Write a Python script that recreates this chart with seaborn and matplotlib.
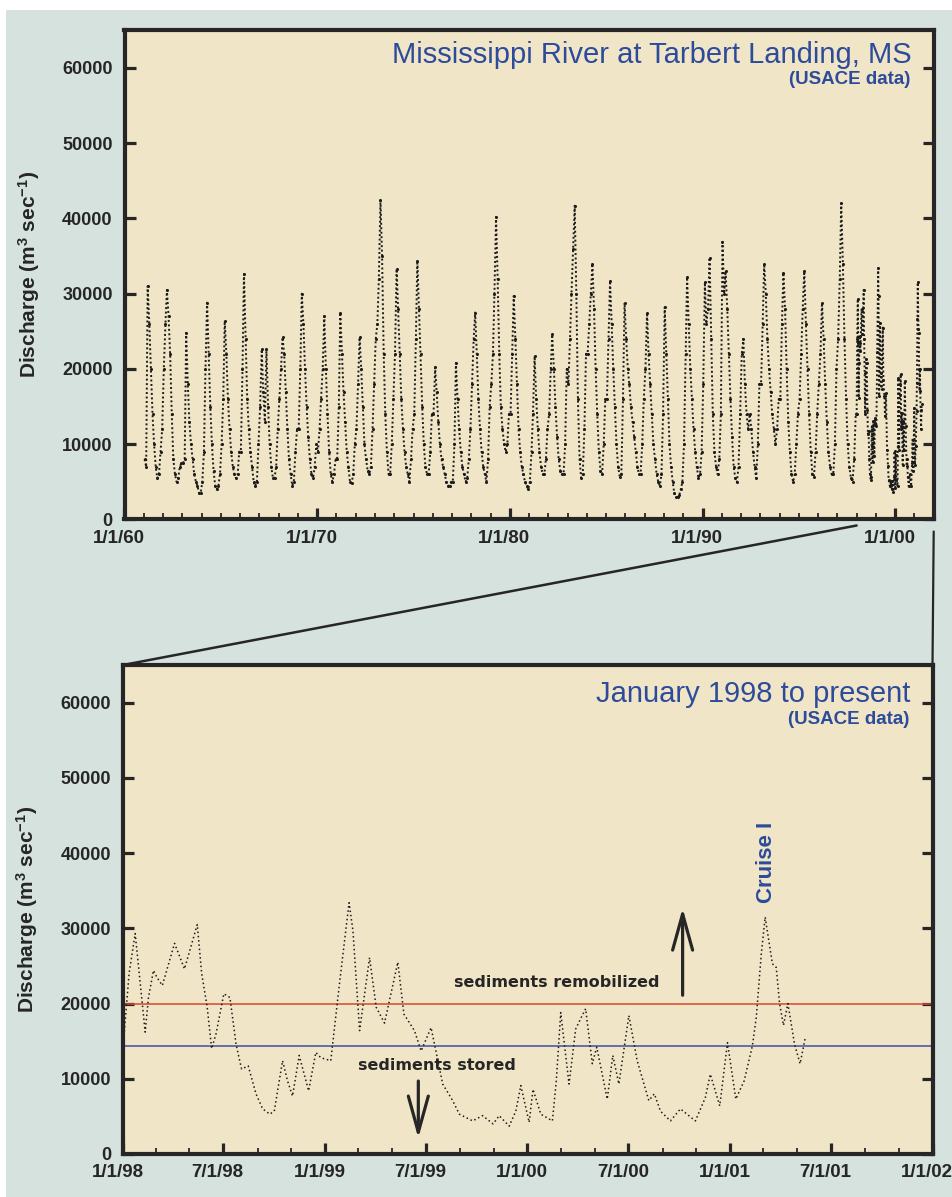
import numpy as np
import pandas as pd
import matplotlib
matplotlib.use("Agg")
import matplotlib.pyplot as plt
import matplotlib.dates as mdates
from matplotlib.patches import Rectangle, ConnectionPatch
from matplotlib.transforms import ScaledTranslation
from matplotlib.ticker import FixedLocator, FuncFormatter
import seaborn as sns

# ---------------- data (discharge in 1000 m3/s) ----------------
# long record: mid-month values, Jan 1961 .. Dec 1969
q_1960s = [8, 7, 31, 26, 20, 14, 10, 7, 5.5, 6, 9, 12,
           20, 26, 30.5, 27, 22, 14, 8, 6, 5, 5.5, 7, 7.5,
           7.5, 8, 24.8, 18, 13, 10, 8, 6, 5, 4.5, 3.5, 3.5,
           5, 9, 20, 28.8, 22, 15, 10, 6.5, 4.5, 4, 4.5, 6,
           10, 16, 26.4, 22, 16, 12, 9, 7, 6, 5.5, 6, 9,
           9, 20, 32.6, 24, 16, 12, 9, 7, 5, 4.4, 5, 10,
           15, 22.6, 17, 13, 22.6, 15, 10, 7, 5.5, 5.5, 7, 12,
           16, 20, 24.2, 22, 17, 12, 8, 6, 4.5, 5, 9, 12,
           12, 20, 30, 26, 20, 15, 11, 8, 6, 5.5, 7, 10]
q_1970s = [9, 12, 16, 20, 27, 20, 14, 9, 6, 5, 6, 8,
           8, 15, 27.5, 22, 17, 13, 9, 7, 5, 4.8, 6, 10,
           12, 18, 24.2, 20, 15, 10, 8, 6.5, 6, 7, 12, 18,
           24, 26, 32, 42.4, 35, 22, 14, 9, 6, 6, 10, 16,
           22, 33.3, 28, 22, 16, 12, 9, 7, 6, 5, 8, 12,
           14, 24, 34.4, 28, 22, 15, 10, 7, 6, 6, 9, 14,
           14, 20.2, 17, 13, 10, 8, 7, 6, 5, 4.5, 4.5, 5,
           5, 10, 20.8, 16, 12, 9, 7, 6, 5, 5.5, 8, 12,
           18, 24, 27.5, 22, 16, 12, 9, 7, 6, 5, 8, 15,
           18, 22, 30, 40.2, 32, 22, 15, 12, 10, 9, 10, 14]
q_1980s = [14, 22, 29.7, 24, 18, 12, 9, 7, 6, 5, 4.5, 4,
           5, 9, 14, 21.7, 16, 12, 9, 7, 6, 6, 8, 12,
           14, 20, 24.6, 20, 15, 11, 8, 6.5, 6, 6, 10, 20,
           18, 24, 30, 36, 41.7, 30, 16, 8, 5.5, 6, 12, 22,
           22, 26, 30, 34, 28, 20, 14, 9, 6.5, 6, 10, 16,
           16, 24, 31.7, 26, 20, 15, 10, 7, 5.7, 6, 16, 28.8,
           24, 20, 18, 15, 13, 11, 9, 7, 6, 6, 10, 16,
           20, 27.5, 22, 18, 14, 10, 8, 6, 5, 4.5, 6, 14,
           28.2, 22, 16, 10, 7, 5, 3.5, 3, 3, 3.2, 4, 5,
           10, 22, 32.2, 26, 20, 16, 12, 9, 7, 5.5, 6, 9]
q_1990s = [18, 31.5, 26, 28, 34.8, 24, 14, 9, 7, 6, 8, 14,
           36.9, 30, 33, 28, 22, 16, 11, 7, 5.5, 5, 7, 14,
           22, 24, 18, 14, 12, 14, 12, 9, 7, 5.5, 10, 18,
           18, 26, 34, 30, 24, 20, 17, 14, 12, 10, 12, 16,
           16, 26, 32.8, 28, 20, 13, 9, 6, 5, 6, 10, 14,
           16, 22, 28, 33, 26, 20, 14, 9, 6, 5.7, 9, 14,
           18, 22, 28.8, 24, 18, 13, 9, 7, 6, 6, 10, 20,
           24, 32, 42, 34, 24, 16, 10, 7, 5.5, 5, 8, 14]

# recent record (lower panel), Jan 1998 .. May 2001
recent_dates = ["1998-01-01", "1998-01-12", "1998-01-23", "1998-01-31", "1998-02-10", "1998-02-16",
                "1998-02-25", "1998-03-03", "1998-03-13", "1998-04-04", "1998-04-22", "1998-05-15",
                "1998-05-23", "1998-06-02", "1998-06-10", "1998-06-18", "1998-07-02", "1998-07-13",
                "1998-07-24", "1998-08-03", "1998-08-15", "1998-08-29", "1998-09-10", "1998-09-23",
                "1998-10-01", "1998-10-16", "1998-10-25", "1998-11-03", "1998-11-15", "1998-12-02",
                "1998-12-15", "1998-12-24",
                "1999-01-11", "1999-01-26", "1999-02-13", "1999-02-20", "1999-03-04", "1999-03-22",
                "1999-04-03", "1999-04-18", "1999-05-12", "1999-05-23", "1999-06-11", "1999-06-23",
                "1999-07-11", "1999-08-01", "1999-08-19", "1999-08-31", "1999-09-24", "1999-10-12",
                "1999-10-31", "1999-11-11", "1999-11-29", "1999-12-11", "1999-12-20",
                "2000-01-04", "2000-01-11", "2000-01-25", "2000-02-15", "2000-02-22", "2000-03-01",
                "2000-03-16", "2000-03-28", "2000-04-06", "2000-04-15", "2000-04-27", "2000-05-05",
                "2000-05-24", "2000-06-03", "2000-06-14", "2000-07-02", "2000-07-17", "2000-08-07",
                "2000-08-17", "2000-08-28", "2000-09-15", "2000-10-03", "2000-10-30", "2000-11-17",
                "2000-11-26", "2000-12-13", "2000-12-27",
                "2001-01-11", "2001-01-26", "2001-02-10", "2001-02-17", "2001-02-26", "2001-03-05",
                "2001-03-18", "2001-03-25", "2001-03-31", "2001-04-07", "2001-04-15", "2001-04-27",
                "2001-05-07", "2001-05-16"]
recent_q = [14.0, 24.0, 29.3, 23.5, 16.2, 20.8, 24.4, 23.5, 22.4, 28.0, 24.6, 30.5,
            24.0, 19.5, 14.0, 16.0, 21.3, 20.8, 14.6, 11.3, 11.7, 8.0, 6.0, 5.3,
            5.7, 12.4, 9.7, 7.7, 13.1, 8.4, 13.5, 12.8,
            12.4, 22.2, 33.4, 29.7, 16.4, 26.1, 19.5, 17.4, 25.5, 18.6, 16.4, 13.7,
            16.8, 9.3, 7.1, 5.3, 4.4, 5.1, 4.0, 5.1, 3.7, 5.7, 9.1,
            4.2, 8.6, 5.3, 4.4, 9.7, 18.8, 9.3, 16.6, 18.0, 19.3, 12.0, 14.2,
            7.3, 13.1, 9.3, 18.4, 12.4, 7.1, 8.0, 5.7, 4.4, 6.0, 4.4, 7.5,
            10.6, 6.4, 14.8,
            7.3, 9.7, 14.4, 18.2, 26.6, 31.5, 25.3, 24.8, 20.0, 17.1, 20.0, 14.6,
            12.0, 15.3]

remobilize_level = 19900
storage_level = 14400
y_ticks = [0, 10000, 20000, 30000, 40000, 50000, 60000]

top_title = "Mississippi River at Tarbert Landing, MS"
bottom_title = "January 1998 to present"
source_note = "(USACE data)"
ylabel = r"Discharge (m$^{3}$ sec$^{-1}$)"

# ---------------- frames ----------------
monthly = q_1960s + q_1970s + q_1980s + q_1990s
monthly_dates = pd.date_range("1961-01-01", periods=len(monthly), freq="MS") + pd.Timedelta(days=14)
long_df = pd.DataFrame({
    "date": list(monthly_dates) + list(pd.to_datetime(recent_dates)),
    "q": [v * 1000 for v in monthly] + [v * 1000 for v in recent_q],
})
recent_df = pd.DataFrame({"date": pd.to_datetime(recent_dates),
                          "q": [v * 1000 for v in recent_q]})

# ---------------- style ----------------
sns.set_style("ticks")
plt.rcParams["font.family"] = ["Liberation Sans", "DejaVu Sans"]
plt.rcParams["mathtext.fontset"] = "custom"
plt.rcParams["mathtext.bf"] = "Liberation Sans:bold"
plt.rcParams["mathtext.rm"] = "Liberation Sans:bold"
plt.rcParams["mathtext.default"] = "bf"

BG = "#d6e2de"
FACE = "#f1e5c7"
INK = "#262626"
BLUE = "#2d4b9b"

W, H = 952, 1197
fig = plt.figure(figsize=(W / 100, H / 100), dpi=100, facecolor="white")
fig.add_artist(Rectangle((6 / W, 0), 1 - 6 / W, 1 - 10 / H, transform=fig.transFigure,
                         facecolor=BG, edgecolor="none", zorder=-5))

ax1 = fig.add_axes([124.5 / W, (H - 519.5) / H, (933.7 - 124.5) / W, (519.5 - 30.3) / H])
ax2 = fig.add_axes([123 / W, (H - 1154) / H, (932.5 - 123) / W, (1154 - 665) / H])

sns.lineplot(data=long_df, x="date", y="q", ax=ax1, estimator=None, sort=False,
             color="#1c1c1c", lw=1.4, linestyle=(0, (1, 1.3)),
             marker="o", markersize=2.2, markeredgewidth=0, markerfacecolor="#1c1c1c")
sns.lineplot(data=recent_df, x="date", y="q", ax=ax2, estimator=None, sort=False,
             color="#1c1c1c", lw=1.1, linestyle=(0, (1, 1.8)))

ax2.axhline(remobilize_level, color="#d5482e", lw=1.1, zorder=1)
ax2.axhline(storage_level, color="#3c4fa3", lw=1.1, zorder=1)


def date_label(x, pos):
    d = mdates.num2date(x)
    return f"{d.month}/{d.day}/{d:%y}"


def style_axes(ax, start, end, major, minor):
    ax.set_facecolor(FACE)
    ax.set_xlim(pd.Timestamp(start), pd.Timestamp(end))
    ax.set_ylim(0, 65000)
    ax.set_xlabel("")
    ax.set_ylabel(ylabel, fontsize=15, fontweight="bold", color=INK)
    ax.yaxis.set_label_coords(-0.102, 0.5)
    ax.xaxis.set_major_locator(major)
    ax.xaxis.set_minor_locator(minor)
    ax.xaxis.set_major_formatter(FuncFormatter(date_label))
    ax.yaxis.set_major_locator(FixedLocator(y_ticks))
    ax.yaxis.set_major_formatter(FuncFormatter(lambda v, p: f"{int(v)}"))
    for s in ax.spines.values():
        s.set_visible(True)
        s.set_linewidth(3.0)
        s.set_color(INK)
    ax.tick_params(axis="y", which="major", direction="in", left=True, right=True,
                   length=8, width=2.3, color=INK, labelsize=13, labelcolor=INK, pad=8.5)
    ax.tick_params(axis="x", which="major", direction="in", bottom=True, top=False,
                   length=8, width=2.3, color=INK, labelsize=13.5, labelcolor=INK, pad=7.5)
    ax.tick_params(axis="x", which="minor", direction="in", bottom=True, top=False,
                   length=4, width=1.3, color=INK)
    for lab in ax.get_yticklabels() + ax.get_xticklabels():
        lab.set_fontweight("bold")
    shift = ScaledTranslation(-5.5 / 100, 0, fig.dpi_scale_trans)
    for lab in ax.get_xticklabels():
        lab.set_transform(lab.get_transform() + shift)


style_axes(ax1, "1960-01-01", "2002-01-01", mdates.YearLocator(10), mdates.YearLocator(1))
style_axes(ax2, "1998-01-01", "2002-01-01", mdates.MonthLocator(bymonth=[1, 7]),
           mdates.MonthLocator(bymonth=[3, 5, 9, 11]))

# titles
for ax, title, ty, ny in [(ax1, top_title, 0.9325, 0.890), (ax2, bottom_title, 0.925, 0.879)]:
    ax.text(0.973, ty, title, transform=ax.transAxes, ha="right", va="baseline",
            fontsize=21, color=BLUE)
    ax.text(0.971, ny, source_note, transform=ax.transAxes, ha="right", va="baseline",
            fontsize=13.5, fontweight="bold", color=BLUE)

# annotations in the lower panel
d2n = lambda s: mdates.date2num(pd.Timestamp(s))
ax2.text(d2n("2001-03-08"), 33300, "Cruise I", rotation=90, ha="center", va="bottom",
         fontsize=16, fontweight="bold", color=BLUE)
ax2.text(d2n("2000-02-23"), 22200, "sediments remobilized", ha="center", va="baseline",
         fontsize=11.5, fontweight="bold", color=INK, family="DejaVu Sans")
ax2.text(d2n("1999-07-22"), 11200, "sediments stored", ha="center", va="baseline",
         fontsize=11.5, fontweight="bold", color=INK, family="DejaVu Sans")
arrow = dict(arrowstyle="->,head_length=2.6,head_width=0.72", lw=2.3, color=INK,
             mutation_scale=10, shrinkA=0, shrinkB=0)
ax2.annotate("", xy=(d2n("2000-10-07"), 32700), xytext=(d2n("2000-10-07"), 21100),
             arrowprops=arrow)
ax2.annotate("", xy=(d2n("1999-06-18"), 2100), xytext=(d2n("1999-06-18"), 9700),
             arrowprops=arrow)

# zoom connector lines
below6 = ax1.transData + ScaledTranslation(0, -6 / 100, fig.dpi_scale_trans)
below12 = ax1.transData + ScaledTranslation(0, -12 / 100, fig.dpi_scale_trans)
con1 = ConnectionPatch(xyA=(d2n("1998-01-01"), 0), coordsA=below6, xyB=(0, 1),
                       coordsB=ax2.transAxes, color=INK, lw=1.8)
con2 = ConnectionPatch(xyA=(d2n("2002-01-01"), 0), coordsA=below12, xyB=(1, 1),
                       coordsB=ax2.transAxes, color=INK, lw=1.6)
fig.add_artist(con1)
fig.add_artist(con2)

fig.savefig("out.png", dpi=100, facecolor="white")
